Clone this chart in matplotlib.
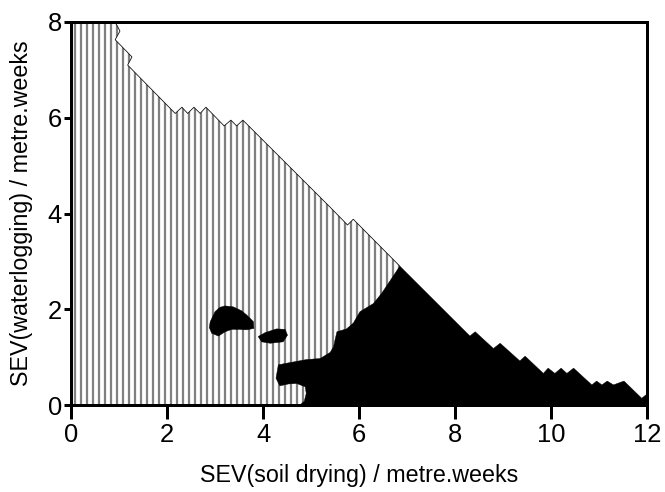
import matplotlib
matplotlib.use("Agg")
import matplotlib.pyplot as plt

plt.rcParams['font.family'] = ['Liberation Sans', 'DejaVu Sans']
plt.rcParams['hatch.linewidth'] = 1.5

# upper boundary of the hatched (waterlogging-tolerant) zone
top_x = [0.0, 0.92, 1.02, 0.92, 1.27, 1.18, 2.17, 2.31, 2.43, 2.56, 2.69, 2.81,
         3.19, 3.33, 3.45, 3.58, 5.40, 5.76, 5.88, 6.85]
top_y = [8.0, 8.0, 7.81, 7.63, 7.27, 7.10, 6.09, 6.22, 6.09, 6.22, 6.09, 6.22,
         5.83, 5.95, 5.83, 5.95, 4.13, 3.76, 3.88, 2.90]

# main black region: left edge bottom->peak, then right edge peak->x=12
black_left_x = [4.77, 4.86, 4.90, 4.88, 4.70, 4.53, 4.35, 4.27, 4.32, 4.53, 4.91, 5.19,
                5.40, 5.47, 5.50, 5.54, 5.74, 5.88, 6.02, 6.30, 6.47, 6.85]
black_left_y = [0.0, 0.08, 0.24, 0.38, 0.45, 0.44, 0.40, 0.56, 0.84, 0.88, 0.95, 0.97,
                1.10, 1.22, 1.36, 1.53, 1.59, 1.71, 1.95, 2.12, 2.33, 2.90]
black_right_x = [8.31, 8.42, 8.80, 8.94, 9.35, 9.46, 9.84, 9.94, 10.08, 10.21,
                 10.33, 10.47, 10.85, 10.95, 11.06, 11.17, 11.30, 11.52, 11.89, 12.0, 12.0]
black_right_y = [1.44, 1.53, 1.18, 1.29, 0.92, 1.02, 0.66, 0.77, 0.66, 0.77,
                 0.66, 0.77, 0.42, 0.50, 0.42, 0.50, 0.42, 0.50, 0.14, 0.23, 0.0]

# isolated black patches
blob1_x = [2.90, 3.00, 3.10, 3.21, 3.38, 3.55, 3.66, 3.80, 3.81, 3.66, 3.50, 3.35, 3.21, 3.07, 2.93, 2.88]
blob1_y = [1.74, 1.95, 2.04, 2.07, 2.05, 1.97, 1.88, 1.74, 1.60, 1.57, 1.58, 1.58, 1.53, 1.44, 1.50, 1.62]
blob2_x = [3.90, 4.04, 4.28, 4.46, 4.51, 4.42, 4.15, 3.97]
blob2_y = [1.43, 1.51, 1.59, 1.58, 1.46, 1.32, 1.29, 1.32]

xticks = [0, 2, 4, 6, 8, 10, 12]
yticks = [0, 2, 4, 6, 8]

dpi = 108
fig = plt.figure(figsize=(665 / dpi, 492 / dpi), dpi=dpi)
ax = fig.add_axes([0.1068, 0.1768, 0.8662, 0.7785])

hx = [0.0] + top_x + [top_x[-1]]
hy = [0.0] + top_y + [0.0]
ax.fill(hx, hy, facecolor='white', edgecolor='#808080', hatch='|||', linewidth=0)
ax.plot(top_x, top_y, color='black', linewidth=0.5)

bx = black_left_x + black_right_x
by = black_left_y + black_right_y
ax.fill(bx, by, color='black', linewidth=0.3)
ax.fill(blob1_x, blob1_y, color='black', linewidth=0.3)
ax.fill(blob2_x, blob2_y, color='black', linewidth=0.3)

ax.set_xlim(0, 12)
ax.set_ylim(0, 8)
ax.set_xticks(xticks)
ax.set_yticks(yticks)
for s in ax.spines.values():
    s.set_linewidth(2)
ax.tick_params(axis='x', length=9, width=2, labelsize=17, pad=3)
ax.tick_params(axis='y', length=5, width=2, labelsize=17, pad=1)
ax.set_xlabel("SEV(soil drying) / metre.weeks", fontsize=15.5, labelpad=11)
ax.set_ylabel("SEV(waterlogging) / metre.weeks", fontsize=15.5, labelpad=10)

plt.savefig("out.png", dpi=dpi)
